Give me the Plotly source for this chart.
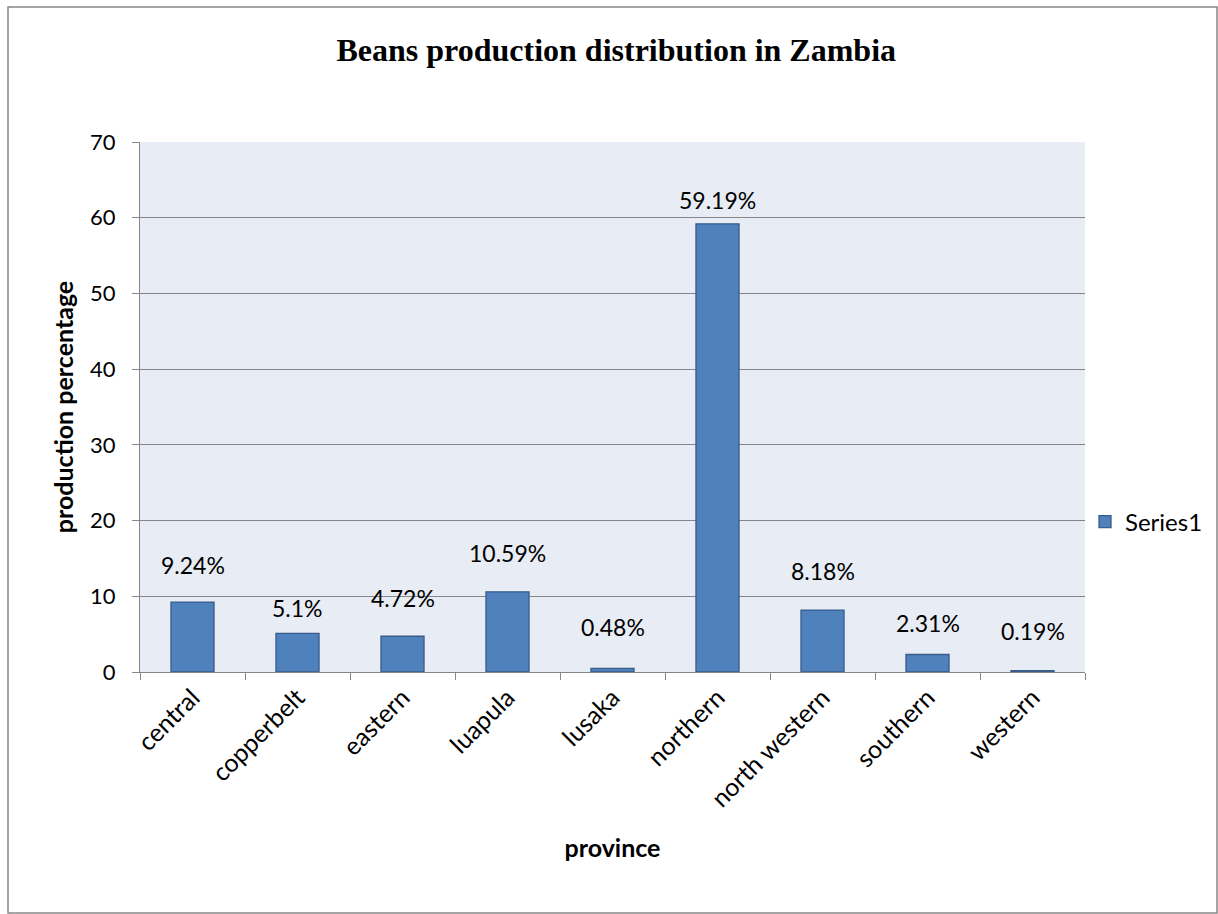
import plotly.graph_objects as go

provinces = ["central", "copperbelt", "eastern", "luapula", "lusaka",
             "northern", "north western", "southern", "western"]
production = [9.24, 5.1, 4.72, 10.59, 0.48, 59.19, 8.18, 2.31, 0.19]
labels = ["9.24%", "5.1%", "4.72%", "10.59%", "0.48%", "59.19%", "8.18%", "2.31%", "0.19%"]

# pixel offsets of the data labels above each bar (style)
label_shift = [37, 25, 38, 39, 41, 24, 39, 32, 40]

FONT = "Lato, Open Sans, sans-serif"

fig = go.Figure()
fig.add_trace(go.Bar(
    x=provinces, y=production, name="Series1",
    marker=dict(color="#4F81BD", line=dict(color="#385D8A", width=1.3)),
    width=0.41,
))

for p, v, t, s in zip(provinces, production, labels, label_shift):
    fig.add_annotation(x=p, y=v, text=t, showarrow=False, yshift=s,
                       yanchor="middle", xanchor="center",
                       font=dict(family=FONT, size=23, color="#000"))

fig.update_layout(
    width=1218, height=914,
    margin=dict(l=140, r=133, t=142, b=242, autoexpand=False),
    paper_bgcolor="white",
    plot_bgcolor="#E8ECF4",
    title=dict(text="<b>Beans production distribution in Zambia</b>",
               x=0.504, xref="paper", xanchor="center",
               y=1 - 50 / 914, yref="container", yanchor="middle",
               font=dict(family="Liberation Serif, Times New Roman, serif", size=32, color="#000")),
    showlegend=True,
    legend=dict(x=1.0, y=0.283, xanchor="left", yanchor="middle",
                font=dict(family=FONT, size=24, color="#000"),
                bgcolor="rgba(0,0,0,0)", itemwidth=30),
    font=dict(family=FONT, color="#000"),
    bargap=0.59,
)

fig.update_xaxes(
    type="category", tickangle=-45,
    tickfont=dict(size=25, family=FONT, color="#000"),
    showline=True, linecolor="#868686", linewidth=1.3,
    ticks="outside", ticklen=7, tickcolor="#868686", tickson="boundaries",
    showgrid=False,
    title=dict(text="<b>province</b>", font=dict(size=25, family=FONT, color="#000"),
               standoff=28),
)
fig.update_yaxes(
    range=[0, 70], dtick=10,
    tickfont=dict(size=22, family=FONT, color="#000"),
    ticklabelstandoff=12,
    showline=True, linecolor="#868686", linewidth=1.3,
    ticks="outside", ticklen=7, tickcolor="#868686",
    showgrid=True, gridcolor="#868686", gridwidth=1.3,
    zeroline=False,
    title=dict(text="<b>production percentage</b>", font=dict(size=25, family=FONT, color="#000"),
               standoff=9),
)

# outer chart border
fig.add_shape(type="rect", xref="paper", yref="paper",
              x0=(8 - 140) / 945, x1=(1217 - 140) / 945,
              y0=(672 - 913) / 530, y1=(672 - 7) / 530,
              line=dict(color="#868686", width=1.5), fillcolor="rgba(0,0,0,0)", layer="below")

fig.write_html("out.html")
